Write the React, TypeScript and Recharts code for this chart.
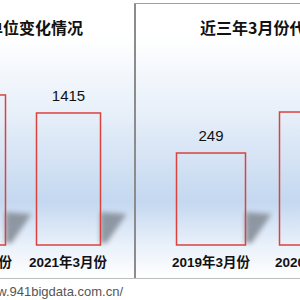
import React from 'react';
import { BarChart, Bar, XAxis, YAxis, LabelList } from 'recharts';

// left panel: two years
const leftCategories = ['2020年3月份', '2021年3月份'];
const leftValues = [1608, 1415];
const leftTitle = '近两年3月份代理单位变化情况';

// right panel: three years
const rightCategories = ['2019年3月份', '2020年3月份', '2021年3月份'];
const rightValues = [249, 360, 420];
const rightTitle = '近三年3月份代理单位数量';

const sourceUrl = 'http://www.941bigdata.com.cn/';

const leftData = leftCategories.map((name, i) => ({ name, value: leftValues[i] }));
const rightData = rightCategories.map((name, i) => ({ name, value: rightValues[i] }));

const FONT = '"Liberation Sans", "Noto Sans CJK SC", sans-serif';
const panelBg =
  'linear-gradient(to bottom, #ffffff 0%, #ffffff 12%, #e7eff9 40%, #c4d8f0 72%, #eaf1fa 88%, #ffffff 100%)';

const OutlineBar = (props: any) => {
  const { x, y, width, height, index, chartId } = props;
  const bottom = y + height;
  const right = x + width;
  const fid = `blur-${chartId}-${index}`;
  return (
    <g>
      <defs>
        <filter id={fid} x="-50%" y="-50%" width="200%" height="200%">
          <feGaussianBlur stdDeviation="2.5" />
        </filter>
      </defs>
      <polygon
        points={`${right},${bottom - 2} ${right},${bottom - 33} ${right + 26},${bottom - 31} ${right + 6},${bottom - 2}`}
        fill="#8a939e"
        opacity={0.95}
        filter={`url(#${fid})`}
      />
      <rect x={x} y={y} width={width} height={height} fill="none" stroke="#d8433e" strokeWidth={1.5} />
    </g>
  );
};

const tickStyle = { fill: '#111', fontSize: 13.5, fontWeight: 'bold' as const, fontFamily: FONT };

export default function App() {
  return (
    <div
      style={{
        position: 'absolute',
        left: 0,
        top: 0,
        width: 300,
        height: 300,
        overflow: 'hidden',
        background: '#fff',
        fontFamily: FONT,
      }}
    >
      <div style={{ position: 'absolute', left: -160, top: 3, width: 294, height: 276, background: panelBg }}>
        <BarChart width={294} height={276} data={leftData} margin={{ top: 55.4, right: 18.5, bottom: 4, left: 85.5 }}>
          <XAxis
            dataKey="name"
            axisLine={false}
            tickLine={false}
            height={30}
            interval={0}
            tickMargin={6}
            tick={tickStyle}
          />
          <YAxis hide domain={[0, 2000]} />
          <Bar dataKey="value" barSize={64} shape={<OutlineBar chartId="l" />} isAnimationActive={false}>
            <LabelList dataKey="value" position="top" offset={12} fill="#111" fontSize={15} fontFamily={FONT} />
          </Bar>
        </BarChart>
      </div>

      <div style={{ position: 'absolute', left: 136, top: 3, width: 360, height: 276, background: panelBg }}>
        <BarChart width={360} height={276} data={rightData} margin={{ top: 57.3, right: 27.5, bottom: 4, left: 23.5 }}>
          <XAxis
            dataKey="name"
            axisLine={false}
            tickLine={false}
            height={30}
            interval={0}
            tickMargin={6}
            tick={tickStyle}
          />
          <YAxis hide domain={[0, 500]} />
          <Bar dataKey="value" barSize={69} shape={<OutlineBar chartId="r" />} isAnimationActive={false}>
            <LabelList dataKey="value" position="top" offset={12} fill="#111" fontSize={15} fontFamily={FONT} />
          </Bar>
        </BarChart>
      </div>

      {/* frame lines */}
      <div style={{ position: 'absolute', left: 134, top: 3, width: 2, height: 276, background: '#8c8c8c' }} />
      <div style={{ position: 'absolute', left: 134, top: 3, width: 166, height: 1, background: '#a0a0a0' }} />
      <div style={{ position: 'absolute', left: 0, top: 278, width: 300, height: 1, background: '#bdbdbd' }} />

      {/* titles */}
      <div
        style={{
          position: 'absolute',
          right: 217,
          top: 17,
          fontSize: 16,
          fontWeight: 'bold',
          whiteSpace: 'nowrap',
          color: '#111',
          fontFamily: '"Noto Sans CJK SC", sans-serif',
          lineHeight: '20px',
        }}
      >
        {leftTitle}
      </div>
      <div
        style={{
          position: 'absolute',
          left: 200,
          top: 17,
          fontSize: 16,
          fontWeight: 'bold',
          whiteSpace: 'nowrap',
          color: '#111',
          fontFamily: '"Noto Sans CJK SC", sans-serif',
          lineHeight: '20px',
        }}
      >
        {rightTitle}
      </div>

      <div
        style={{
          position: 'absolute',
          right: 177,
          top: 284,
          fontSize: 13,
          color: '#555',
          whiteSpace: 'nowrap',
          lineHeight: '16px',
        }}
      >
        {sourceUrl}
      </div>
    </div>
  );
}
